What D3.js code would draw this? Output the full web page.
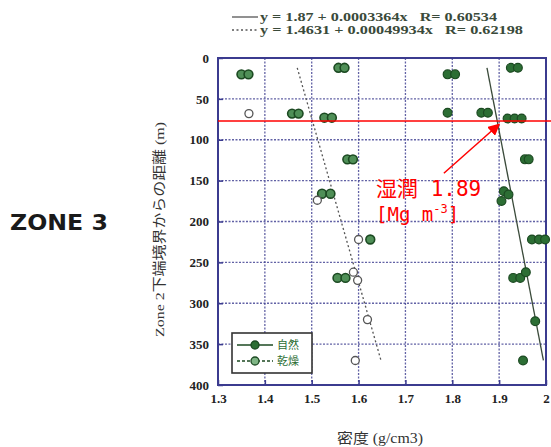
<!DOCTYPE html>
<html>
<head>
<meta charset="utf-8">
<script src="https://cdn.jsdelivr.net/npm/d3@7/dist/d3.min.js"></script>
<style>
  html, body { margin: 0; padding: 0; background: #fff; }
  svg { display: block; }
</style>
</head>
<body>
<svg id="chart" width="551" height="447"></svg>
<script>
// Density (g/cm3) vs distance below the Zone 2 lower boundary (m)
const xTicks = [1.3, 1.4, 1.5, 1.6, 1.7, 1.8, 1.9, 2.0];
const xTickLabels = ["1.3", "1.4", "1.5", "1.6", "1.7", "1.8", "1.9", "2"];
const yTicks = [0, 50, 100, 150, 200, 250, 300, 350, 400];

// natural (自然) samples: [density, depth]
const naturalDensity = [1.790, 1.806, 1.790, 1.862, 1.876, 1.925, 1.940, 1.918, 1.933, 1.948,
                        1.955, 1.963, 1.910, 1.905, 1.920, 1.970, 1.985, 1.998, 1.930, 1.945,
                        1.957, 1.977, 1.951];
const naturalDepth   = [20, 20, 67, 67, 67, 12, 12, 74, 74, 74,
                        124, 124, 163, 175, 167, 222, 222, 222, 269, 269,
                        262, 322, 370];

// dry (乾燥) samples shown in green
const dryDensity = [1.350, 1.365, 1.458, 1.472, 1.557, 1.570, 1.527, 1.543, 1.576, 1.588,
                    1.522, 1.540, 1.625, 1.555, 1.572];
const dryDepth   = [20, 20, 68, 68, 12, 12, 73, 73, 124, 124,
                    166, 166, 222, 269, 269];

// dry (乾燥) samples shown as open circles
const dryOpenDensity = [1.366, 1.512, 1.600, 1.589, 1.598, 1.619, 1.593];
const dryOpenDepth   = [68, 174, 222, 262, 272, 320, 370];

// regression fits: density = a + b * depth
const fitNames  = ["natural", "dry"];
const fitA      = [1.87, 1.4631];
const fitB      = [0.0003364, 0.00049934];
const fitLabels = ["y = 1.87 + 0.0003364x   R= 0.60534",
                   "y = 1.4631 + 0.00049934x   R= 0.62198"];
const fitDepthRange = [12, 370];

// marked level and its note
const markDepth = 77;
const markDensityLabel = "1.89";

const svg = d3.select("#chart");
const margin = { left: 218, top: 58 };
const W = 546, H = 385;

const x = d3.scaleLinear().domain([1.3, 2.0]).range([margin.left, W]);
const y = d3.scaleLinear().domain([0, 400]).range([margin.top, H]);

const navy = "#3b3b8f";
const green = "#2c6e34";
const greenDark = "#1c4a22";

// plot background
svg.append("rect").attr("x", x(1.3)).attr("y", y(0))
  .attr("width", x(2.0) - x(1.3)).attr("height", y(400) - y(0)).attr("fill", "#fff");

// grid
const grid = svg.append("g");
grid.selectAll("line.gx").data(xTicks.slice(1, -1)).enter().append("line")
  .attr("x1", d => x(d)).attr("x2", d => x(d)).attr("y1", y(0)).attr("y2", y(400))
  .attr("stroke", navy).attr("stroke-width", 1.3).attr("stroke-dasharray", "2,1.5").attr("opacity", 0.8);
grid.selectAll("line.gy").data(yTicks.slice(1, -1)).enter().append("line")
  .attr("y1", d => y(d)).attr("y2", d => y(d)).attr("x1", x(1.3)).attr("x2", x(2.0))
  .attr("stroke", navy).attr("stroke-width", 1.3).attr("stroke-dasharray", "2,1.5").attr("opacity", 0.8);

// axes
const xAxis = d3.axisBottom(x).tickValues(xTicks).tickSize(-5).tickPadding(9)
  .tickFormat((d, i) => xTickLabels[i]);
const yAxis = d3.axisLeft(y).tickValues(yTicks).tickSize(-5).tickPadding(9);

const gx = svg.append("g").attr("transform", `translate(0,${H})`).call(xAxis);
const gy = svg.append("g").attr("transform", `translate(${margin.left},0)`).call(yAxis);
[gx, gy].forEach(g => {
  g.select(".domain").remove();
  g.selectAll(".tick line").attr("stroke", navy).attr("stroke-width", 1.5);
  g.selectAll(".tick text").attr("fill", "#222")
    .style("font-family", "'Liberation Serif', 'DejaVu Serif', serif")
    .style("font-size", "13px").style("font-weight", "bold");
});

// frame
svg.append("rect").attr("x", x(1.3)).attr("y", y(0))
  .attr("width", x(2.0) - x(1.3)).attr("height", y(400) - y(0))
  .attr("fill", "none").attr("stroke", navy).attr("stroke-width", 2);

// fit lines
const fitStyles = [{ dash: null, color: "#3a4a3a" }, { dash: "2,2.5", color: "#555" }];
fitNames.forEach((n, i) => {
  const line = d3.line().x(d => x(fitA[i] + fitB[i] * d)).y(d => y(d));
  svg.append("path").datum(fitDepthRange).attr("d", line)
    .attr("fill", "none").attr("stroke", fitStyles[i].color)
    .attr("stroke-width", 1.3).attr("stroke-dasharray", fitStyles[i].dash);
});

// points
const pts = svg.append("g");
pts.selectAll("circle.dry").data(d3.zip(dryDensity, dryDepth)).enter().append("circle")
  .attr("cx", d => x(d[0])).attr("cy", d => y(d[1])).attr("r", 4.4)
  .attr("fill", "#4f8f57").attr("stroke", greenDark).attr("stroke-width", 1.6);
pts.selectAll("circle.open").data(d3.zip(dryOpenDensity, dryOpenDepth)).enter().append("circle")
  .attr("cx", d => x(d[0])).attr("cy", d => y(d[1])).attr("r", 4)
  .attr("fill", "#fff").attr("stroke", "#555").attr("stroke-width", 1.3);
pts.selectAll("circle.nat").data(d3.zip(naturalDensity, naturalDepth)).enter().append("circle")
  .attr("cx", d => x(d[0])).attr("cy", d => y(d[1])).attr("r", 4.4)
  .attr("fill", green).attr("stroke", greenDark).attr("stroke-width", 1.2);

// legend
const lg = svg.append("g");
lg.append("rect").attr("x", 232).attr("y", 333).attr("width", 80).attr("height", 40)
  .attr("fill", "#fff").attr("stroke", "#333").attr("stroke-width", 1.6);
const legendItems = [
  { label: "自然", dash: null, fill: green, y: 345 },
  { label: "乾燥", dash: "3,2", fill: "#7fb585", y: 361 }
];
legendItems.forEach(it => {
  lg.append("line").attr("x1", 237).attr("x2", 273).attr("y1", it.y).attr("y2", it.y)
    .attr("stroke", greenDark).attr("stroke-width", 1.3).attr("stroke-dasharray", it.dash);
  lg.append("circle").attr("cx", 255).attr("cy", it.y).attr("r", 4)
    .attr("fill", it.fill).attr("stroke", greenDark).attr("stroke-width", 1.3);
  lg.append("text").attr("x", 277).attr("y", it.y + 4).text(it.label)
    .attr("fill", green).style("font-family", "'Noto Sans CJK JP', sans-serif").style("font-size", "11px");
});

// fit equations above the plot
const eqWidths = [237, 263];
fitLabels.forEach((t, i) => {
  const yy = 17 + i * 13;
  svg.append("line").attr("x1", 232).attr("x2", 258).attr("y1", yy).attr("y2", yy)
    .attr("stroke", "#555").attr("stroke-width", 1.3).attr("stroke-dasharray", fitStyles[i].dash);
  svg.append("text").attr("x", 260).attr("y", yy + 4).text(t)
    .attr("textLength", eqWidths[i]).attr("lengthAdjust", "spacingAndGlyphs")
    .attr("fill", "#3a4a3a").attr("xml:space", "preserve").style("white-space", "pre")
    .style("font-family", "'Liberation Serif', serif").style("font-size", "11.5px").style("font-weight", "bold");
});

// axis titles
svg.append("text").attr("transform", `translate(164,${(y(0) + y(400)) / 2 + 8}) rotate(-90)`)
  .attr("text-anchor", "middle").text("Zone 2下端境界からの距離 (m)")
  .attr("textLength", 215).attr("lengthAdjust", "spacingAndGlyphs")
  .attr("fill", "#333").style("font-family", "'Liberation Serif', 'Noto Sans CJK JP', serif").style("font-size", "13.5px");
svg.append("text").attr("x", 380).attr("y", 443).attr("text-anchor", "middle")
  .text("密度 (g/cm3)").attr("textLength", 86).attr("lengthAdjust", "spacingAndGlyphs")
  .attr("fill", "#333")
  .style("font-family", "'Liberation Serif', 'Noto Sans CJK JP', serif").style("font-size", "14px");

// zone title
svg.append("text").attr("x", 10).attr("y", 230).text("ZONE 3")
  .attr("textLength", 98).attr("lengthAdjust", "spacingAndGlyphs")
  .attr("fill", "#1a1a1a").style("font-family", "'DejaVu Sans', sans-serif")
  .style("font-size", "21px").style("font-weight", "bold");

// marked level
svg.append("line").attr("x1", x(1.3)).attr("x2", 551).attr("y1", y(markDepth)).attr("y2", y(markDepth))
  .attr("stroke", "#ff0000").attr("stroke-width", 1.5);

svg.append("defs").append("marker").attr("id", "arrowhead")
  .attr("viewBox", "0 0 10 10").attr("refX", 9).attr("refY", 5)
  .attr("markerWidth", 8).attr("markerHeight", 8).attr("orient", "auto")
  .append("path").attr("d", "M0,0 L10,5 L0,10 z").attr("fill", "#ff0000");
svg.append("line").attr("x1", x(1.782)).attr("y1", y(141)).attr("x2", x(1.9)).attr("y2", y(81))
  .attr("stroke", "#ff0000").attr("stroke-width", 1.5).attr("marker-end", "url(#arrowhead)");

const note = svg.append("text").attr("fill", "#ff0000")
  .style("font-family", "'DejaVu Sans Mono', 'Noto Sans CJK JP', monospace").style("font-size", "21px");
note.append("tspan").attr("x", 376).attr("y", 196).text("湿潤 " + markDensityLabel);
const l2 = svg.append("text").attr("fill", "#ff0000")
  .style("font-family", "'DejaVu Sans Mono', 'Noto Sans CJK JP', monospace").style("font-size", "19px");
l2.append("tspan").attr("x", 376).attr("y", 221).text("[Mg m");
l2.append("tspan").attr("dy", -8).style("font-size", "12px").text("-3");
l2.append("tspan").attr("dy", 8).text("]");
</script>
</body>
</html>
